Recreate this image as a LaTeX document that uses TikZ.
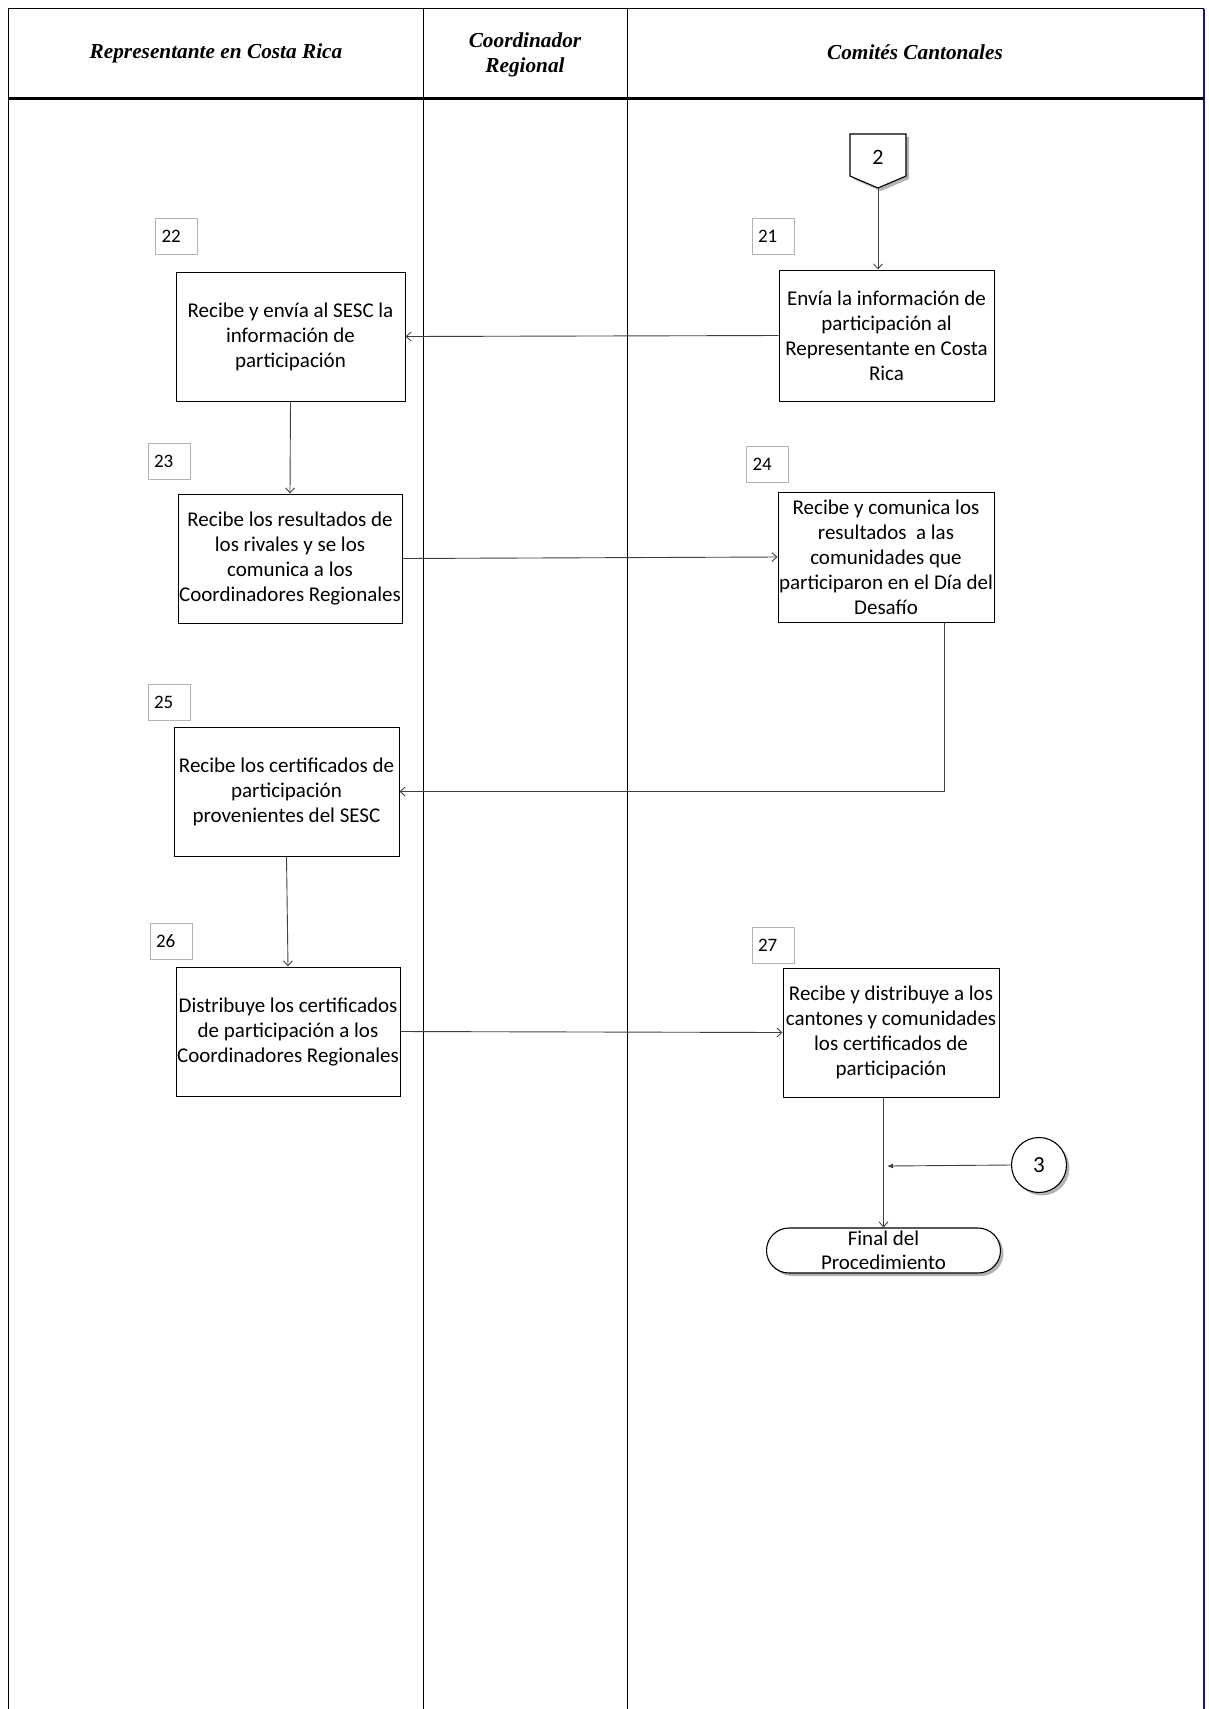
\documentclass[tikz,border=0pt]{standalone}
\usepackage{fontspec}
\setmainfont{Carlito}
\newfontfamily\hdrfont{Liberation Serif}
\usetikzlibrary{arrows.meta,shapes.misc,shadows}
\definecolor{frameblue}{RGB}{20,20,140}
\tikzset{
  procbox/.style={draw, line width=1pt, align=center, inner sep=1pt,
    font=\fontsize{21}{25}\selectfont},
  numbox/.style={draw=black!30, line width=0.8pt, text width=30pt, align=left,
    inner xsep=6pt, minimum height=36pt, font=\fontsize{19}{22}\selectfont},
  hdr/.style={align=center, font=\hdrfont\bfseries\itshape\fontsize{21.3}{25.6}\selectfont},
  arr/.style={draw=black!75, line width=0.9pt, -{Straight Barb[length=5pt,width=9pt]}},
  shad/.style={drop shadow={shadow xshift=3pt, shadow yshift=-3pt, opacity=0.6, fill=black!50}},
  frame/.style={line width=1.2pt},
}
\begin{document}
\begin{tikzpicture}[x=1pt,y=-1pt]
\useasboundingbox (0,0) rectangle (1209,1709);
% frame
\draw[frame] (8.5,1709) -- (8.5,8.5) -- (1204,8.5);
\draw[frame, frameblue] (1204,8.5) -- (1204,1709);
\draw[line width=2.2pt] (8.5,98.5) -- (1204,98.5);
\draw[line width=1pt] (423,8.5) -- (423,1709);
\draw[line width=1pt] (627,8.5) -- (627,1709);
% headers
\node[hdr] (h1) at (216,53) {Representante en Costa Rica};
\node[hdr] (h2) at (525,55) {Coordinador\\Regional};
\node[hdr] (h3) at (915,52) {Comités Cantonales};
% off-page connector 2
\path[draw, fill=white, line width=1.1pt, shad] (850,134) -- (906,134) -- (906,176) -- (878,188) -- (850,176) -- cycle;
\node[font=\fontsize{22}{24}\selectfont] (c2) at (878,157) {2};
\coordinate (c2tip) at (878,188);
% process boxes
\node[procbox, minimum width=215pt, minimum height=131pt] (b21) at (886.5,335.5)
  {Envía la información de\\participación al\\Representante en Costa\\Rica};
\node[procbox, minimum width=229pt, minimum height=129pt] (b22) at (290.5,336.5)
  {Recibe y envía al SESC la\\información de\\participación};
\node[procbox, minimum width=224pt, minimum height=129pt] (b23) at (290,558.5)
  {Recibe los resultados de\\los rivales y se los\\comunica a los\\Coordinadores Regionales};
\node[procbox, minimum width=216pt, minimum height=130pt] (b24) at (886,557)
  {Recibe y comunica los\\resultados\ \ a las\\comunidades que\\participaron en el Día del\\Desafío};
\node[procbox, minimum width=225pt, minimum height=129pt] (b25) at (286.5,791.5)
  {Recibe los certificados de\\participación\\provenientes del SESC};
\node[procbox, minimum width=224pt, minimum height=129pt] (b26) at (288,1031.5)
  {Distribuye los certificados\\de participación a los\\Coordinadores Regionales};
\node[procbox, minimum width=216pt, minimum height=129pt] (b27) at (891,1032.5)
  {Recibe y distribuye a los\\cantones y comunidades\\los certificados de\\participación};
% number boxes
\node[numbox] (n21) at (773,236.5) {21};
\node[numbox] (n22) at (176.5,236) {22};
\node[numbox] (n23) at (169,461) {23};
\node[numbox] (n24) at (767.5,464) {24};
\node[numbox] (n25) at (169,702.5) {25};
\node[numbox] (n26) at (171,941) {26};
\node[numbox] (n27) at (773,945) {27};
% terminator
\node[rounded rectangle, draw, fill=white, line width=1.1pt, shad, minimum width=234pt,
  minimum height=45pt, inner sep=0pt, align=center, font=\fontsize{21}{24}\selectfont]
  (term) at (883.5,1250.5) {Final del\\Procedimiento};
% connector 3
\node[circle, draw, fill=white, line width=1.1pt, shad, minimum size=55pt, inner sep=0pt,
  font=\fontsize{23}{26}\selectfont] (c3) at (1039,1165) {3};
\coordinate (j3) at (887,1166);
% connectors
\draw[arr] (c2tip) -- (c2tip |- b21.north);
\draw[arr] (b21.west) -- (b22.east);
\draw[arr] (b22.south) -- (b23.north);
\draw[arr] (b23.east) -- (b24.west);
\draw[arr] ([xshift=58pt]b24.south) |- (b25.east);
\draw[arr] (b25.south) -- (b26.north);
\draw[arr] (b26.east) -- (b27.west);
\draw[arr] (b27.south -| term.north) -- (term.north);
\draw[draw=black!75, line width=0.9pt, -{Latex[length=6pt,width=5pt]}] (c3.west) -- (j3);
\end{tikzpicture}
\end{document}
